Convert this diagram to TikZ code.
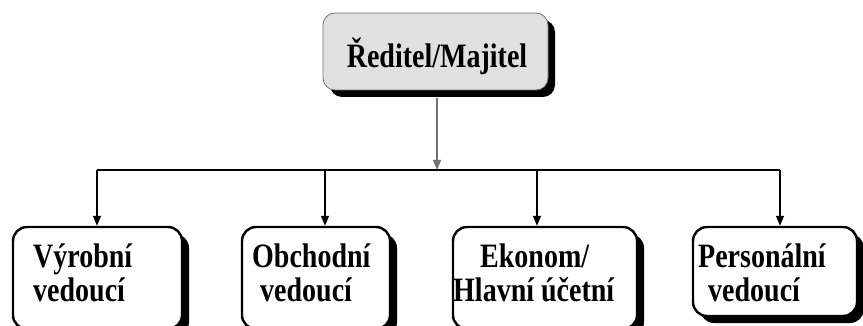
\documentclass[tikz,border=0pt]{standalone}
\usepackage{fontspec}
\setmainfont{Liberation Serif}
\usetikzlibrary{shadows,arrows.meta}
% tall bold lettering
\newcommand\tallword[1]{\scalebox{1}[1.22]{#1}}
\begin{document}
\begin{tikzpicture}[x=1pt,y=-1pt,
  headbox/.style={draw=black!55, line width=0.8pt, fill=black!12, rounded corners=12pt,
    drop shadow={shadow xshift=7pt, shadow yshift=-7pt, fill=black, opacity=1},
    minimum width=225pt, minimum height=77pt, inner sep=0pt},
  unitbox/.style={draw=black, line width=2.4pt, fill=white, rounded corners=14pt,
    drop shadow={shadow xshift=7pt, shadow yshift=-7pt, fill=black, opacity=1},
    minimum height=102pt, inner sep=0pt},
  label/.style={font=\bfseries\fontsize{28}{30}\selectfont, inner sep=0pt, anchor=base west},
  link/.style={line width=1.3pt, -{Triangle[length=10pt,width=8pt]}},
]
\clip (0,0) rectangle (863,326);
\useasboundingbox (0,0) rectangle (863,326);
\fill[white] (0,0) rectangle (863,326);

% director
\node[headbox] (top) at (435.5,51.5) {};
\node[label, anchor=base] (ttop) at (437,68) {\tallword{Ředitel/Majitel}};

% managers
\node[unitbox, minimum width=169pt] (b1) at (97.5,278) {};
\node[unitbox, minimum width=148pt] (b2) at (316,278) {};
\node[unitbox, minimum width=184pt] (b3) at (545,278) {};
\node[unitbox, minimum width=164pt, minimum height=89pt] (b4) at (775,271.5) {};

\node[label] (t1a) at (33,268) {\tallword{Výrobní}};
\node[label] (t1b) at (33,301) {\tallword{vedoucí}};
\node[label] (t2a) at (252,268) {\tallword{Obchodní}};
\node[label] (t2b) at (260,301) {\tallword{vedoucí}};
\node[label] (t3a) at (480,268) {\tallword{Ekonom/}};
\node[label] (t3b) at (453,301) {\tallword{Hlavní účetní}};
\node[label] (t4a) at (698,268) {\tallword{Personální}};
\node[label] (t4b) at (708,301) {\tallword{vedoucí}};

% distribution bus
\coordinate (hub) at (437,170);
\coordinate (j1) at (97,170);
\coordinate (j2) at (325,170);
\coordinate (j3) at (537,170);
\coordinate (j4) at (780,170);
\coordinate (src) at (437,98);

\draw[link, draw=black!55, fill=black!80] (src) -- (hub);
\draw[line width=1.3pt] (j1) -- (j4);
\draw[link] (j1) -- (j1 |- b1.north);
\draw[link] (j2) -- (j2 |- b2.north);
\draw[link] (j3) -- (j3 |- b3.north);
\draw[link] (j4) -- (j4 |- b4.north);
\end{tikzpicture}
\end{document}
